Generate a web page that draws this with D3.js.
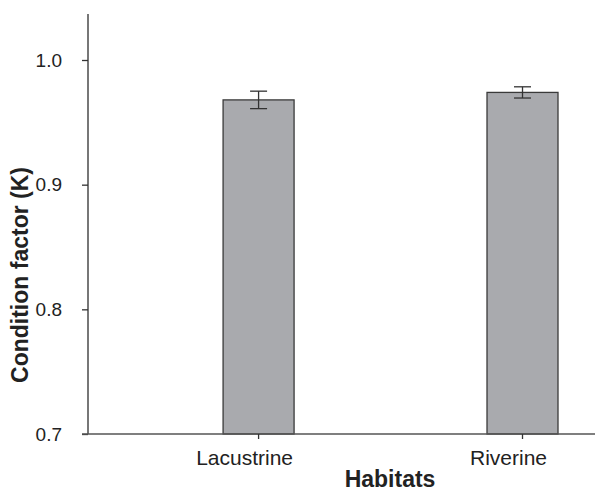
<!DOCTYPE html>
<html>
<head>
<meta charset="utf-8">
<script src="https://cdn.jsdelivr.net/npm/d3@7"></script>
<style>
  html, body { margin: 0; padding: 0; background: #fff; }
  svg { display: block; }
  text { font-family: "Liberation Sans", Arial, sans-serif; fill: #222; }
</style>
</head>
<body>
<svg id="chart" width="595" height="492"></svg>
<script>
// Mean condition factor by habitat, with standard error
const habitats = ["Lacustrine", "Riverine"];
const meanK = [0.968, 0.974];
const errK = [0.007, 0.0045];
const yTicks = [0.7, 0.8, 0.9, 1.0];

const width = 595, height = 492;
const margin = { top: 14, right: 0, bottom: 58, left: 88 };

const svg = d3.select("#chart");

const x = d3.scaleBand()
  .domain(habitats)
  .range([margin.left, width - margin.right])
  .paddingInner(0.731)
  .paddingOuter(0.326)
  .align(0.785);

const y = d3.scaleLinear()
  .domain([0.7, 1.0])
  .range([height - margin.bottom, 60]);

const yTop = y.invert(margin.top);

const data = habitats.map((h, i) => ({ h, m: meanK[i], e: errK[i] }));

// bars
svg.append("g")
  .selectAll("rect")
  .data(data)
  .join("rect")
  .attr("x", d => x(d.h))
  .attr("y", d => y(d.m))
  .attr("width", x.bandwidth())
  .attr("height", d => y(0.7) - y(d.m))
  .attr("fill", "#a9aaae")
  .attr("stroke", "#3a3a3a")
  .attr("stroke-width", 1.3);

// error bars
const eb = svg.append("g")
  .attr("stroke", "#333")
  .attr("stroke-width", 1.3)
  .attr("fill", "none");
const capW = 8.5;
data.forEach(d => {
  const cx = x(d.h) + x.bandwidth() / 2;
  eb.append("line").attr("x1", cx).attr("x2", cx).attr("y1", y(d.m + d.e)).attr("y2", y(d.m - d.e));
  eb.append("line").attr("x1", cx - capW).attr("x2", cx + capW).attr("y1", y(d.m + d.e)).attr("y2", y(d.m + d.e));
  eb.append("line").attr("x1", cx - capW).attr("x2", cx + capW).attr("y1", y(d.m - d.e)).attr("y2", y(d.m - d.e));
});

// y axis
const yAxis = svg.append("g")
  .attr("transform", `translate(${margin.left},0)`)
  .call(d3.axisLeft(y).tickValues(yTicks).tickFormat(d3.format(".1f")).tickSize(6).tickPadding(20));
yAxis.select(".domain").attr("d", `M0,${y(yTop)}V${y(0.7)}`);

// x axis
const xAxis = svg.append("g")
  .attr("transform", `translate(0,${y(0.7)})`)
  .call(d3.axisBottom(x).tickSize(5).tickPadding(11));
xAxis.select(".domain").attr("d", `M${margin.left - 6},0H${width}`);

[yAxis, xAxis].forEach(a => {
  a.select(".domain").attr("stroke", "#555").attr("stroke-width", 1.6);
  a.selectAll(".tick line").attr("stroke", "#333").attr("stroke-width", 1.3);
  a.selectAll(".tick text").attr("fill", "#333")
    .attr("font-family", "Liberation Sans, Arial, sans-serif");
});
yAxis.selectAll(".tick text").attr("font-size", 19);
xAxis.selectAll(".tick text").attr("font-size", 21).attr("dx", -14);

// axis titles
svg.append("text")
  .attr("x", 390)
  .attr("y", 487)
  .attr("text-anchor", "middle")
  .attr("font-size", 23)
  .attr("font-weight", "bold")
  .text("Habitats");

svg.append("text")
  .attr("transform", `translate(28,275) rotate(-90)`)
  .attr("text-anchor", "middle")
  .attr("font-size", 23)
  .attr("font-weight", "bold")
  .text("Condition factor (K)");
</script>
</body>
</html>
